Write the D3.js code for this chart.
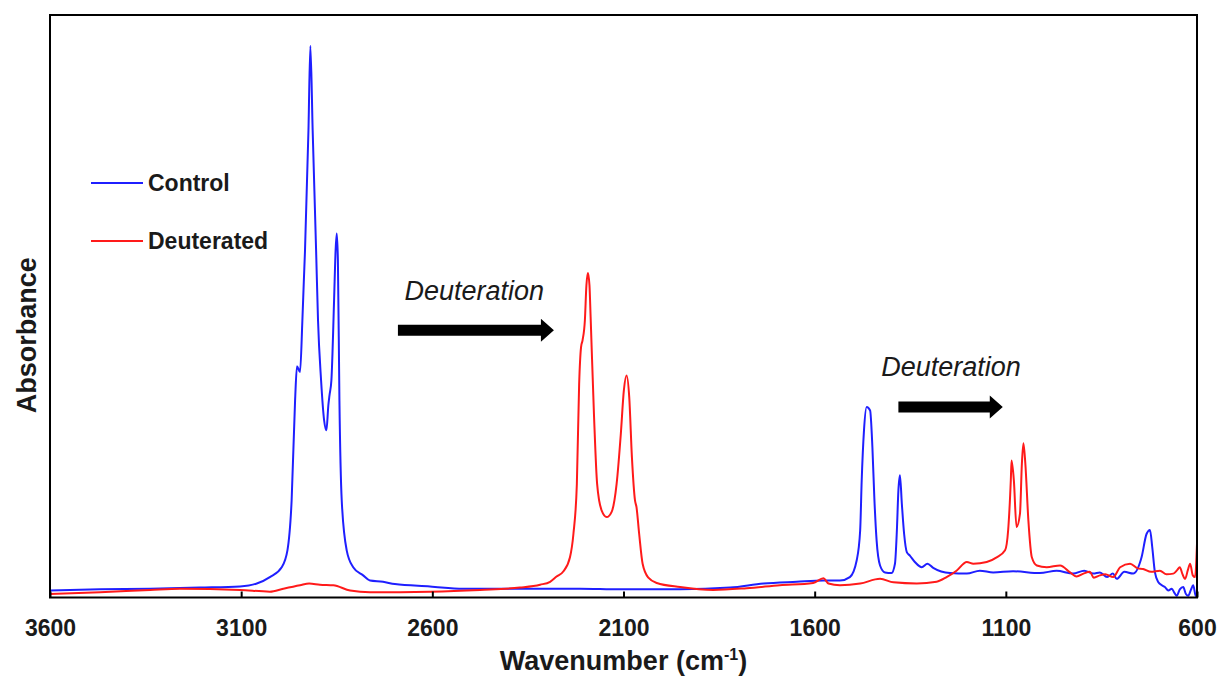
<!DOCTYPE html>
<html lang="en">
<head>
  <meta charset="UTF-8">
  <title>FTIR spectra</title>
  <style>
    body { margin: 0; background: #fff; }
    svg { font-family: "Liberation Sans", Arial, sans-serif; }
    .frame { fill: none; stroke: #000; stroke-width: 2; }
    .tick line { stroke: #000; stroke-width: 2; }
    .tick text { font-size: 23px; font-weight: bold; fill: #1a1a1a; }
    .titre { font-size: 27px; font-weight: bold; fill: #1a1a1a; }
    .leg { font-size: 23px; font-weight: bold; fill: #1a1a1a; }
    .note { font-size: 27px; font-style: italic; fill: #1a1a1a; }
  </style>
</head>
<body>
  <svg id="chart"></svg>

  <script src="https://d3js.org/d3.v7.min.js"></script>
  <script>
    // values (wavenumber cm-1, absorbance a.u.)
    const ctrlWn = [3600, 3469, 3338, 3208, 3103, 3059, 3025, 2994, 2979, 2968, 2959, 2954, 2946, 2940, 2936, 2933,
      2924, 2919, 2913, 2904, 2899, 2891, 2883, 2877, 2872, 2869, 2864, 2857, 2853, 2850, 2847, 2843, 2837, 2824,
      2807, 2781, 2763, 2729, 2698, 2606, 2519, 2388, 2214, 2109, 1952, 1821, 1734, 1647, 1577, 1534, 1508, 1490,
      1481, 1477, 1471, 1464, 1455, 1449, 1444, 1438, 1429, 1416, 1399, 1390, 1385, 1381, 1377, 1372, 1366, 1359,
      1351, 1338, 1320, 1305, 1290, 1246, 1202, 1168, 1133, 1081, 1011, 967, 924, 895, 871, 854, 835, 820, 810, 790,
      767, 745, 732, 723, 717, 710, 701, 692, 684, 675, 666, 659, 653, 645, 636, 629, 623, 616, 610, 604, 600];
    const ctrlAbs = [.012, .014, .015, .017, .019, .024, .035, .052, .081, .167, .338, .397, .387, .474, .545, .596,
      .802, .947, .802, .596, .476, .373, .304, .287, .330, .347, .373, .510, .596, .625, .579, .338, .167, .081,
      .052, .038, .029, .027, .023, .019, .015, .015, .015, .014, .014, .017, .024, .027, .029, .029, .035, .064,
      .115, .201, .287, .327, .321, .258, .172, .098, .055, .043, .042, .058, .115, .184, .210, .161, .109, .078,
      .072, .061, .052, .058, .051, .042, .041, .046, .043, .045, .042, .046, .041, .046, .041, .043, .035, .041, .032, .044,
      .041, .069, .109, .116, .086, .043, .026, .021, .018, .012, .015, .008, .003, .014, .018, .006, .003, .013, .021, .004, .001];

    const deutWn = [3600, 3469, 3338, 3260, 3103, 3025, 2990, 2946, 2922, 2894, 2859, 2815, 2763, 2606, 2475, 2371,
      2318, 2292, 2275, 2257, 2240, 2231, 2222, 2216, 2211, 2207, 2201, 2197, 2193, 2189, 2186, 2177, 2169, 2157,
      2144, 2131, 2118, 2107, 2099, 2092, 2085, 2078, 2070, 2066, 2059, 2050, 2035, 2013, 1952, 1865, 1778, 1691,
      1604, 1577, 1564, 1534, 1481, 1429, 1394, 1333, 1281, 1255, 1229, 1202, 1185, 1150, 1124, 1102, 1094, 1087,
      1085, 1079, 1072, 1063, 1058, 1054, 1049, 1041, 1032, 1019, 993, 958, 932, 915, 897, 880, 870, 854, 840, 819,
      801, 775, 755, 741, 720, 697, 680, 662, 652, 645, 638, 631, 624, 618, 611, 605, 600];
    const deutAbs = [.006, .009, .013, .015, .013, .010, .015, .021, .024, .022, .021, .012, .009, .010, .013, .017,
      .022, .027, .036, .045, .069, .109, .195, .367, .430, .442, .476, .536, .557, .536, .482, .310, .195, .149,
      .138, .147, .195, .281, .356, .381, .344, .241, .167, .155, .109, .058, .034, .025, .018, .013, .016, .021,
      .025, .033, .024, .021, .024, .032, .026, .024, .027, .035, .046, .061, .058, .061, .069, .081, .115, .201,
      .235, .201, .121, .144, .230, .265, .230, .132, .069, .055, .052, .055, .043, .036, .041, .044, .034, .038, .040, .035,
      .052, .058, .050, .049, .044, .046, .040, .041, .047, .052, .040, .032, .047, .058, .038, .035, .092];

    const xTicks = [3600, 3100, 2600, 2100, 1600, 1100, 600];
    const seriesNames = ['Control', 'Deuterated'];
    const seriesColors = ['#1f1fff', '#ff1a1a'];
    const notes = [
      { text: 'Deuteration', x: 2673, y: 0.511, from: 2690, to: 2282, ya: 0.459 },
      { text: 'Deuteration', x: 1426, y: 0.380, from: 1381, to: 1108, ya: 0.327 }
    ];

    function draw() {
      const largura = 1220, altura = 677;
      const m = { left: 50, right: 23, top: 15, bottom: 79.5 };
      const svg = d3.select('#chart').attr('width', largura).attr('height', altura);

      const x = d3.scaleLinear().domain([3600, 600]).range([m.left, largura - m.right]);
      const y = d3.scaleLinear().domain([0, 1]).range([altura - m.bottom, m.top]);

      const series = [
        ctrlWn.map((w, i) => [w, ctrlAbs[i]]),
        deutWn.map((w, i) => [w, deutAbs[i]])
      ];

      const line = d3.line().x(d => x(d[0])).y(d => y(d[1])).curve(d3.curveMonotoneX);

      // lines (control first, deuterated on top)
      svg.selectAll('.serie')
        .data(series)
        .enter()
        .append('path')
        .attr('class', 'serie')
        .attr('d', line)
        .attr('fill', 'none')
        .attr('stroke', (d, i) => seriesColors[i])
        .attr('stroke-width', 2)
        .attr('stroke-linejoin', 'round');

      // frame
      svg.append('rect').attr('class', 'frame')
        .attr('x', m.left).attr('y', m.top)
        .attr('width', largura - m.left - m.right)
        .attr('height', altura - m.top - m.bottom);

      // x axis with inside ticks
      const gx = svg.append('g')
        .attr('transform', `translate(0,${altura - m.bottom})`)
        .call(d3.axisBottom(x).tickValues(xTicks).tickFormat(d3.format('d')).tickSizeInner(-6).tickSizeOuter(0));
      gx.select('.domain').remove();
      gx.selectAll('.tick text').attr('y', 0).attr('dy', 38);

      // axis titles
      const tx = svg.append('text').attr('class', 'titre')
        .attr('x', (m.left + largura - m.right) / 2).attr('y', 670)
        .attr('text-anchor', 'middle');
      tx.append('tspan').text('Wavenumber (cm');
      tx.append('tspan').text('-1').attr('font-size', '16px').attr('dy', -10);
      tx.append('tspan').text(')').attr('dy', 10);

      svg.append('text').attr('class', 'titre')
        .attr('transform', `translate(36,${(m.top + altura - m.bottom) / 2 + 29}) rotate(-90)`)
        .attr('text-anchor', 'middle')
        .text('Absorbance');

      // legend
      const leg = svg.selectAll('.legenda')
        .data(seriesNames)
        .enter()
        .append('g')
        .attr('class', 'legenda')
        .attr('transform', (d, i) => `translate(91,${183 + i * 58})`);
      leg.append('line')
        .attr('x1', 0).attr('x2', 52).attr('y1', 0).attr('y2', 0)
        .attr('stroke', (d, i) => seriesColors[i]).attr('stroke-width', 2);
      leg.append('text').attr('class', 'leg')
        .attr('x', 57).attr('y', 8).text(d => d);

      // annotations with arrows
      const nota = svg.selectAll('.nota')
        .data(notes)
        .enter()
        .append('g')
        .attr('class', 'nota');
      nota.append('text').attr('class', 'note')
        .attr('x', d => x(d.x)).attr('y', d => y(d.y))
        .text(d => d.text);
      nota.append('path')
        .attr('fill', '#000')
        .attr('d', d => {
          const x0 = x(d.from), x1 = x(d.to), yc = y(d.ya);
          const hl = 13, sh = 5.5, hh = 11.5;
          return `M${x0},${yc - sh}L${x1 - hl},${yc - sh}L${x1 - hl},${yc - hh}L${x1},${yc}` +
            `L${x1 - hl},${yc + hh}L${x1 - hl},${yc + sh}L${x0},${yc + sh}Z`;
        });
    }

    draw();
  </script>
</body>
</html>
